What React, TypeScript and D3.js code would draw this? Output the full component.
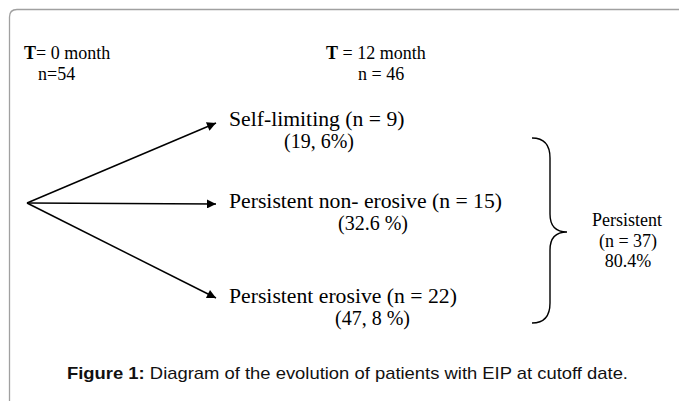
import React from "react";
import * as d3 from "d3";

// data
const timePoints = ["0 month", "12 month"];
const timeCounts = ["n=54", "n = 46"];
const categories = ["Self-limiting", "Persistent non- erosive", "Persistent erosive"];
const counts = [9, 15, 22];
const percents = ["19, 6%", "32.6 %", "47, 8 %"];
const groupLabel = "Persistent";
const groupCount = 37;
const groupPercent = "80.4%";
const caption = "Diagram of the evolution of patients with EIP at cutoff date.";

const W = 679;
const H = 401;
const serif = "'Liberation Serif', 'Times New Roman', serif";
const sans = "'Liberation Sans', Arial, sans-serif";

export default function App() {
  // arrow tips for each branch
  const yScale = d3.scaleOrdinal<string, number>().domain(categories).range([123, 204, 298]);
  const subX = d3.scaleOrdinal<string, number>().domain(categories).range([284, 338, 335]);
  const origin: [number, number] = [27, 203];
  const tipX = 216;
  const labelX = 229;

  const line = d3.line();

  // curly brace around the persistent branches
  const bx0 = 532, bxv = 550, bxt = 567, yTop = 138, yMid = 232, yBot = 323;
  const brace = d3.path();
  brace.moveTo(bx0, yTop);
  brace.quadraticCurveTo(bxv, yTop, bxv, yTop + 20);
  brace.lineTo(bxv, yMid - 18);
  brace.quadraticCurveTo(bxv, yMid, bxt, yMid);
  brace.quadraticCurveTo(bxv, yMid, bxv, yMid + 18);
  brace.lineTo(bxv, yBot - 20);
  brace.quadraticCurveTo(bxv, yBot, bx0, yBot);

  return (
    <svg width={W} height={H} style={{ position: "absolute", left: 0, top: 0, background: "#fff" }}>
      <defs>
        <marker id="arrowhead" viewBox="0 0 10 10" refX={10} refY={5}
          markerUnits="userSpaceOnUse" markerWidth={13} markerHeight={9} orient="auto">
          <path d="M0,0 L10,5 L0,10 z" fill="#000" />
        </marker>
      </defs>

      {/* frame */}
      <path d={`M9.5,${H} L9.5,17 Q9.5,9.5 17,9.5 L${W},9.5`} fill="none" stroke="#a0a0a0" strokeWidth={1.3} />

      {/* time headers */}
      <text x={24} y={59} fontFamily={serif} fontSize={18} fill="#000">
        <tspan fontWeight="bold">T</tspan>= {timePoints[0]}
      </text>
      <text x={38} y={80} fontFamily={serif} fontSize={18} fill="#000">{timeCounts[0]}</text>
      <text x={326} y={59} fontFamily={serif} fontSize={18} fill="#000">
        <tspan fontWeight="bold">T</tspan> = {timePoints[1]}
      </text>
      <text x={358} y={80} fontFamily={serif} fontSize={18} fill="#000">{timeCounts[1]}</text>

      {/* arrows */}
      {categories.map((c) => (
        <path key={c} d={line([origin, [tipX, yScale(c)]]) || ""} stroke="#000" strokeWidth={1.5}
          fill="none" markerEnd="url(#arrowhead)" />
      ))}

      {/* branch labels */}
      {categories.map((c, i) => (
        <g key={c + "-label"} fontFamily={serif} fill="#000">
          <text x={labelX} y={yScale(c) + 3 + i} fontSize={21.7}>{`${c} (n = ${counts[i]})`}</text>
          <text x={subX(c)} y={yScale(c) + 25 + i} fontSize={20}>{`(${percents[i]})`}</text>
        </g>
      ))}

      {/* brace */}
      <path d={brace.toString()} fill="none" stroke="#000" strokeWidth={1.4} />
      <g fontFamily={serif} fontSize={18} fill="#000" textAnchor="middle">
        <text x={627} y={226}>{groupLabel}</text>
        <text x={628} y={247}>{`(n = ${groupCount})`}</text>
        <text x={628} y={267}>{groupPercent}</text>
      </g>

      {/* caption */}
      <text x={67} y={379} fontFamily={sans} fontSize={17} fill="#111"
        textLength={561} lengthAdjust="spacingAndGlyphs">
        <tspan fontWeight="bold">Figure 1:</tspan> {caption}
      </text>
    </svg>
  );
}
